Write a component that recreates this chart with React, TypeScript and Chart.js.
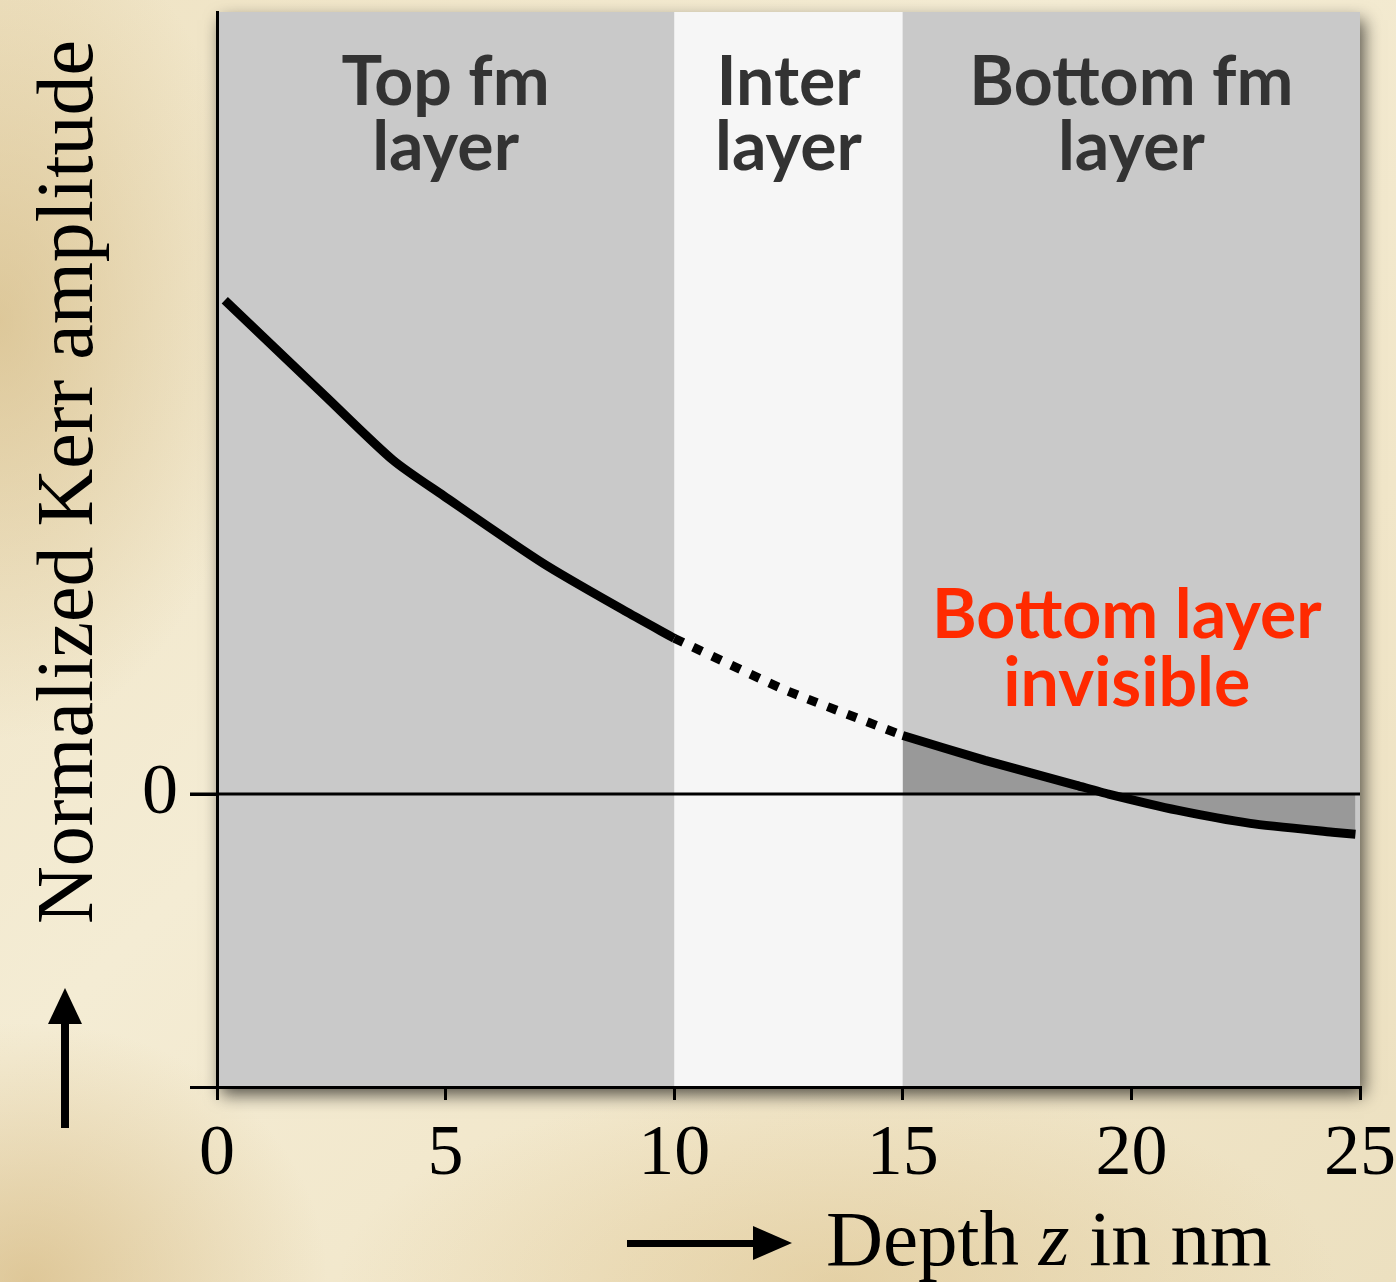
import React, { useEffect, useRef } from "react";
import { Chart, registerables } from "chart.js";

Chart.register(...registerables);

const topDepth = [0.17, 2.36, 3.85, 4.94, 7.13, 8.97, 10];
const topAmp = [1.686, 1.36, 1.14, 1.02, 0.788, 0.621, 0.532];
const interDepth = [10, 12.4, 15];
const interAmp = [0.532, 0.357, 0.2];
const bottomDepth = [15, 16.8, 18.8, 19.5, 21, 22.6, 24.4, 24.9];
const bottomAmp = [0.2, 0.115, 0.03, 0.0, -0.055, -0.1, -0.13, -0.137];

const xTicks = [0, 5, 10, 15, 20, 25];
const yTicks = [-1, 0];
const yTickLabels = ["", "0"];

const layers = [
  { from: 0, to: 10, color: "#c9c9c9", lines: ["Top fm", "layer"], center: 5 },
  { from: 10, to: 15, color: "#f6f6f6", lines: ["Inter", "layer"], center: 12.5 },
  { from: 15, to: 25, color: "#c9c9c9", lines: ["Bottom fm", "layer"], center: 20 },
];
const noteLines = ["Bottom layer", "invisible"];
const noteCenter = 19.9;

const yTitle = "Normalized Kerr amplitude";

const pts = (xs: number[], ys: number[]) => xs.map((x, i) => ({ x, y: ys[i] }));

const zeroPad = (s: any) => {
  s.paddingTop = 0;
  s.paddingBottom = 0;
  s.paddingLeft = 0;
  s.paddingRight = 0;
};

export default function App() {
  const ref = useRef<HTMLCanvasElement | null>(null);

  useEffect(() => {
    const canvas = ref.current;
    if (!canvas) return;

    const decor = {
      id: "decor",
      beforeDraw(chart: any) {
        const { ctx, chartArea: a, scales } = chart;
        const xs = scales.x;
        ctx.save();
        ctx.shadowColor = "rgba(0,0,0,0.65)";
        ctx.shadowBlur = 16;
        ctx.shadowOffsetX = 4;
        ctx.shadowOffsetY = 8;
        ctx.fillStyle = "#c9c9c9";
        ctx.fillRect(a.left, a.top, a.right - a.left, a.bottom - a.top);
        ctx.restore();
        ctx.save();
        for (const l of layers) {
          const x0 = xs.getPixelForValue(l.from);
          const x1 = xs.getPixelForValue(l.to);
          ctx.fillStyle = l.color;
          ctx.fillRect(x0, a.top, x1 - x0, a.bottom - a.top);
        }
        ctx.restore();
      },
      afterDatasetsDraw(chart: any) {
        const { ctx, chartArea: a, scales } = chart;
        const y0 = scales.y.getPixelForValue(0);
        ctx.save();
        ctx.strokeStyle = "#000";
        ctx.lineWidth = 3;
        ctx.beginPath();
        ctx.moveTo(a.left - 27, y0);
        ctx.lineTo(a.right, y0);
        ctx.stroke();
        ctx.restore();
      },
      afterDraw(chart: any) {
        const { ctx, chartArea: a, scales } = chart;
        const xs = scales.x;
        ctx.save();
        ctx.textAlign = "center";
        ctx.textBaseline = "alphabetic";
        ctx.font = "bold 68px Lato";
        ctx.fillStyle = "#333333";
        for (const l of layers) {
          const cx = xs.getPixelForValue(l.center);
          ctx.fillText(l.lines[0], cx, a.top + 93);
          ctx.fillText(l.lines[1], cx, a.top + 158);
        }
        ctx.fillStyle = "#ff2a00";
        const nx = xs.getPixelForValue(noteCenter);
        ctx.fillText(noteLines[0], nx, 638);
        ctx.fillText(noteLines[1], nx, 706);

        ctx.fillStyle = "#000";
        ctx.save();
        ctx.translate(92, 482);
        ctx.rotate(-Math.PI / 2);
        ctx.font = "80px 'Liberation Serif'";
        ctx.textAlign = "center";
        ctx.fillText(yTitle, 0, 0);
        ctx.restore();

        ctx.fillRect(61, 1020, 8, 108);
        ctx.beginPath();
        ctx.moveTo(65, 988);
        ctx.lineTo(82, 1024);
        ctx.lineTo(48, 1024);
        ctx.closePath();
        ctx.fill();

        ctx.fillRect(627, 1240, 130, 7);
        ctx.beginPath();
        ctx.moveTo(792, 1243);
        ctx.lineTo(753, 1226);
        ctx.lineTo(753, 1260);
        ctx.closePath();
        ctx.fill();

        ctx.textAlign = "left";
        let x = 826;
        const base = 1265;
        const parts: [string, string][] = [
          ["Depth ", "79px 'Liberation Serif'"],
          ["z", "italic 79px 'Liberation Serif'"],
          [" in nm", "79px 'Liberation Serif'"],
        ];
        for (const [t, f] of parts) {
          ctx.font = f;
          ctx.fillText(t, x, base);
          x += ctx.measureText(t).width;
        }
        ctx.restore();
      },
    };

    const chart = new Chart(canvas, {
      type: "line",
      data: {
        datasets: [
          {
            data: pts(topDepth, topAmp),
            borderColor: "#000",
            borderWidth: 9,
            pointRadius: 0,
            tension: 0.25,
            fill: false,
          },
          {
            data: pts(interDepth, interAmp),
            borderColor: "#000",
            borderWidth: 9,
            borderDash: [10, 11],
            pointRadius: 0,
            tension: 0.15,
            fill: false,
          },
          {
            data: pts(bottomDepth, bottomAmp),
            borderColor: "#000",
            borderWidth: 9,
            pointRadius: 0,
            tension: 0.2,
            fill: "origin",
            backgroundColor: "#999999",
          },
        ],
      },
      options: {
        responsive: false,
        animation: false,
        events: [],
        layout: { padding: { left: 0, top: 12, right: 36, bottom: 0 } },
        plugins: {
          legend: { display: false },
          tooltip: { enabled: false },
          title: { display: false },
        },
        scales: {
          x: {
            type: "linear",
            min: 0,
            max: 25,
            afterBuildTicks: (s: any) => {
              s.ticks = xTicks.map((v) => ({ value: v }));
            },
            afterFit: (s: any) => {
              s.height = 195;
              zeroPad(s);
            },
            ticks: {
              color: "#000",
              padding: 12,
              maxRotation: 0,
              font: { family: "'Liberation Serif'", size: 72 },
            },
            grid: {
              drawOnChartArea: false,
              drawTicks: true,
              tickLength: 13,
              color: "#000",
              lineWidth: 3,
            },
            border: { display: true, color: "#000", width: 3 },
          },
          y: {
            type: "linear",
            min: -1,
            max: 2.67,
            afterBuildTicks: (s: any) => {
              s.ticks = yTicks.map((v) => ({ value: v }));
            },
            afterFit: (s: any) => {
              s.width = 217;
              zeroPad(s);
            },
            ticks: {
              color: "#000",
              padding: 12,
              font: { family: "'Liberation Serif'", size: 72 },
              callback: (v: any) => {
                const i = yTicks.indexOf(Number(v));
                return i >= 0 ? yTickLabels[i] : "";
              },
            },
            grid: {
              drawOnChartArea: false,
              drawTicks: true,
              tickLength: 27,
              color: "#000",
              lineWidth: 3,
            },
            border: { display: true, color: "#000", width: 3 },
          },
        },
      },
      plugins: [decor as any],
    } as any);

    return () => chart.destroy();
  }, []);

  return (
    <div
      style={{
        position: "fixed",
        left: 0,
        top: 0,
        width: 1396,
        height: 1282,
        background:
          "radial-gradient(ellipse 260px 420px at 0% 25%, rgba(205,175,115,0.55), rgba(205,175,115,0) 100%)," +
          "radial-gradient(ellipse 300px 260px at 2% 100%, rgba(205,170,105,0.55), rgba(205,170,105,0) 100%)," +
          "radial-gradient(ellipse 500px 200px at 60% 100%, rgba(215,185,125,0.45), rgba(215,185,125,0) 100%)," +
          "linear-gradient(135deg, #efe3c4 0%, #f4ecd4 40%, #f1e6c9 70%, #ece0c0 100%)",
      }}
    >
      <canvas ref={ref} width={1396} height={1282} style={{ display: "block" }} />
    </div>
  );
}
